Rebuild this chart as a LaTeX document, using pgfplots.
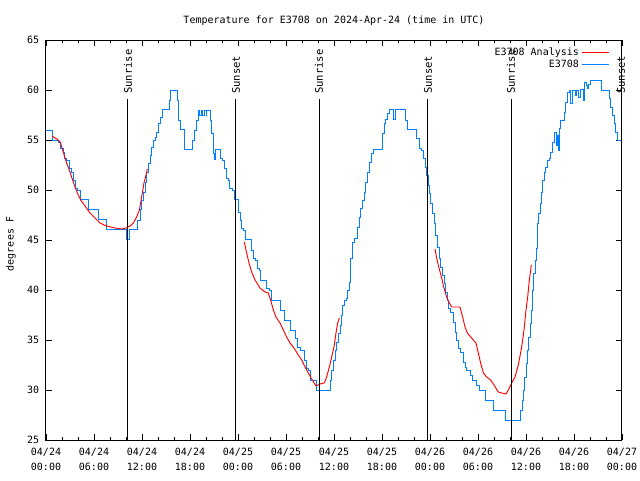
\documentclass[border=0pt]{standalone}
\usepackage{fontspec}
\setmainfont{DejaVu Sans Mono}
\usepackage{pgfplots}
\pgfplotsset{compat=1.18}
\definecolor{gpblue}{RGB}{0,128,255}
\definecolor{gpred}{RGB}{255,0,0}
\begin{document}
\begin{tikzpicture}[font=\fontsize{7.5}{11}\selectfont]
\useasboundingbox (-34.5pt,-30pt) rectangle (445.5pt,330pt);
\begin{axis}[
  at={(0,0)}, anchor=south west,
  width=432pt, height=300pt, scale only axis,
  xmin=0, xmax=72, ymin=25, ymax=65,
  xtick={0,6,...,72},
  xticklabels={{04/24\\00:00},{04/24\\06:00},{04/24\\12:00},{04/24\\18:00},{04/25\\00:00},{04/25\\06:00},{04/25\\12:00},{04/25\\18:00},{04/26\\00:00},{04/26\\06:00},{04/26\\12:00},{04/26\\18:00},{04/27\\00:00}},
  minor x tick num=2,
  ytick={25,30,...,65},
  xtick pos=both, ytick pos=both,
  xticklabel pos=bottom, yticklabel pos=left,
  tick align=inside,
  major tick length=4.5pt, minor tick length=2.5pt,
  every tick/.style={black, line width=0.6pt},
  axis line style={line width=0.75pt},
  /pgf/number format/assume math mode=true,
  xticklabel style={align=center, inner sep=0pt, yshift=-6pt, font=\fontsize{7.5}{11.3}\selectfont},
  yticklabel style={inner sep=0pt, xshift=-5pt, font=\fontsize{7.5}{11}\selectfont},
  clip=false,
  legend plot pos=right,
  legend cell align=right,
  legend image code/.code={\draw[#1] (0cm,0cm) -- (0.7cm,0cm);},
  legend style={draw=none, fill=none, at={(0.978,0.988)}, anchor=north east, inner sep=0pt, row sep=-2.2pt, font=\fontsize{7.5}{9}\selectfont},
]
% E3708 observed
\addplot[gpblue, line width=0.7pt, const plot, forget plot] coordinates {
(0,56) (0.83,55) (1.54,54.8) (1.83,54.2) (2.17,53.8) (2.29,53.2) (2.58,53) (2.88,52.2) (3.13,51.8) (3.42,51) (3.71,50.2) (3.96,50) (4.25,49.1) (5.29,48.1) (6.54,47.1) (7.58,46.1) (10.0,45.1) (10.42,46.1) (11.46,47) (11.75,48.1) (11.96,49) (12.17,49.8) (12.38,50.8) (12.58,51.8) (12.79,52.7) (13.0,53.5) (13.21,54.3) (13.42,55) (13.63,55.3) (13.83,55.8) (14.04,56.7) (14.25,57.3) (14.58,58.1) (15.42,59) (15.58,60) (16.42,59) (16.58,57) (16.83,56.1) (17.25,54.1) (18.25,55) (18.5,56) (18.75,57) (19.0,58) (19.2,57.5) (19.4,58) (19.6,57.5) (19.8,58) (20.0,57.5) (20.1,58) (20.5,57) (20.71,55.7) (20.92,53.7) (21.04,53.1) (21.21,54.1) (21.75,53.2) (22.08,53) (22.25,52.2) (22.5,51.2) (22.79,51) (22.92,50.2) (23.33,50) (23.5,49.1) (24.04,47.8) (24.25,47) (24.46,46.2) (24.67,46) (24.88,45.1) (25.71,44) (25.92,43.2) (26.13,43) (26.42,42.2) (26.67,42) (26.83,41) (27.58,40.2) (27.92,40) (28.13,39) (29.25,38) (29.75,37) (30.5,36) (31.21,35.2) (31.46,34.3) (31.75,34) (32.25,33) (32.5,32.2) (32.79,32) (33.0,31) (33.75,30) (35.5,31) (35.71,32) (35.92,33) (36.13,34) (36.33,34.8) (36.54,35.7) (36.75,36.5) (36.96,37.5) (37.08,38.5) (37.29,39) (37.5,39.2) (37.67,40) (37.88,40.8) (38.08,43.2) (38.29,44.8) (38.5,45.2) (38.92,46.3) (39.17,47.3) (39.33,48.2) (39.54,49) (39.75,49.8) (39.96,50.8) (40.17,51.8) (40.42,52.8) (40.67,53.7) (40.92,54.1) (42.08,55.7) (42.25,56.7) (42.46,57.1) (42.67,57.7) (42.92,58.1) (43.42,57.1) (43.63,58.1) (44.88,57) (45.17,56.1) (46.33,55.2) (46.63,54.2) (46.96,54) (47.17,53.2) (47.38,52.3) (47.58,51.5) (47.79,50.5) (47.92,49.7) (48.08,48.7) (48.29,47.7) (48.5,46.7) (48.71,45.5) (48.92,44.3) (49.13,43.2) (49.33,42.3) (49.54,41.5) (49.75,40.7) (49.96,39.8) (50.17,39) (50.29,38.2) (50.5,37.8) (50.92,36.8) (51.13,35.8) (51.33,35) (51.54,34.2) (51.75,33.8) (52.17,32.8) (52.38,32.3) (52.58,32) (53.08,31.5) (53.33,31) (53.83,30.5) (54.13,30) (54.88,29) (55.92,28) (57.38,27) (59.33,28) (59.5,29) (59.67,30) (59.83,31.3) (60.0,32.7) (60.17,34) (60.33,35.3) (60.5,36.7) (60.63,38) (60.79,40) (60.96,41.7) (61.13,43) (61.25,44.2) (61.42,46.7) (61.58,47.7) (61.75,48.7) (61.92,49.8) (62.08,51) (62.25,51.8) (62.46,52.3) (62.67,53) (62.92,53.2) (63.08,53.8) (63.33,54.8) (63.58,55.8) (63.75,54.5) (63.92,55.5) (64.0,54) (64.13,56.2) (64.33,57) (64.79,57.8) (64.96,58.8) (65.17,59.8) (65.42,60) (65.58,58.7) (65.75,60) (66.17,59.5) (66.33,60) (66.54,59.3) (66.75,60.1) (67.17,59) (67.33,60.8) (67.5,60.5) (67.67,60.2) (67.83,60.6) (68.0,61) (69.46,60) (70.38,59.2) (70.58,58.3) (70.79,57.5) (71.0,56.7) (71.21,55.8) (71.42,55) (72,55)
};
% E3708 Analysis
\addplot[gpred, line width=0.7pt, forget plot] coordinates {
(0.79,55.4) (1.13,55.2) (1.54,55) (1.83,54.7) (2.08,54) (2.38,53.2) (2.67,52.5) (3.0,51.8) (3.33,51) (3.63,50.3) (3.92,49.7) (4.33,49) (4.88,48.4) (5.5,47.7) (6.13,47.2) (6.75,46.7) (7.58,46.4) (8.63,46.2) (9.46,46.1) (10.0,46.2) (10.5,46.4) (10.92,46.7) (11.33,47.3) (11.67,48) (11.96,49.3) (12.25,50.7) (12.5,51.5) (12.67,52.1)
};
\addplot[gpred, line width=0.7pt, forget plot] coordinates {
(24.79,44.8) (25.08,43.7) (25.38,42.7) (25.71,41.8) (26.13,41) (26.75,40.2) (27.38,39.8) (27.79,39.7) (28.08,39) (28.42,38) (28.75,37.3) (29.25,36.7) (29.67,36) (30.08,35.3) (30.5,34.7) (31.0,34.2) (31.54,33.5) (31.96,33) (32.38,32.3) (32.79,31.7) (33.21,31.1) (33.75,30.4) (34.25,30.6) (34.79,30.7) (35.08,31.3) (35.42,32.3) (35.71,33.3) (36.0,34.3) (36.25,35.7) (36.46,36.7) (36.67,37.2)
};
\addplot[gpred, line width=0.7pt, forget plot] coordinates {
(48.63,44.1) (48.83,43.2) (49.13,42.2) (49.46,41.2) (49.75,40.2) (50.08,39.3) (50.42,38.7) (50.71,38.3) (51.75,38.3) (52.08,37.3) (52.38,36.3) (52.67,35.7) (53.21,35.2) (53.75,34.7) (54.04,33.7) (54.33,32.7) (54.67,31.7) (55.08,31.3) (55.58,31) (56.0,30.5) (56.54,29.8) (56.96,29.7) (57.5,29.6) (57.79,30) (58.21,30.7) (58.63,31.3) (59.04,32.5) (59.46,34.3) (59.75,36) (60.0,38) (60.21,39.3) (60.42,41) (60.67,42.5)
};
\addlegendimage{gpred, line width=0.7pt}
\addlegendentry{E3708 Analysis}
\addlegendimage{gpblue, line width=0.7pt}
\addlegendentry{E3708}
% sunrise / sunset markers
\foreach \t/\lab in {10.25/Sunrise, 23.75/Sunset, 34.13/Sunrise, 47.75/Sunset, 58.13/Sunrise, 71.88/Sunset} {
  \edef\temp{\noexpand\draw[black, line width=0.75pt] (axis cs:\t,25) -- (axis cs:\t,59.1);
  \noexpand\node[rotate=90, anchor=west, inner sep=0pt, font=\noexpand\fontsize{7.9}{11}\noexpand\selectfont] at (axis cs:\t,59.6) {\lab};}
  \temp
}
\node at (rel axis cs:0.5,1) [yshift=14.5pt] {Temperature for E3708 on 2024-Apr-24 (time in UTC)};
\node[rotate=90] at (rel axis cs:-0.061,0.49) {degrees F};
\end{axis}
\end{tikzpicture}
\end{document}
